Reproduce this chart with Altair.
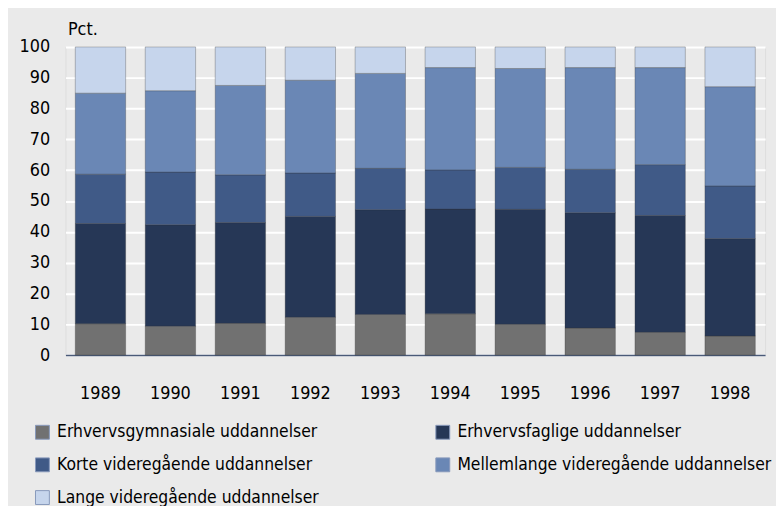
import altair as alt
import pandas as pd

years = ["1989", "1990", "1991", "1992", "1993", "1994", "1995", "1996", "1997", "1998"]
categories = [
    "Erhvervsgymnasiale uddannelser",
    "Erhvervsfaglige uddannelser",
    "Korte videregående uddannelser",
    "Mellemlange videregående uddannelser",
    "Lange videregående uddannelser",
]
colors = ["#717171", "#263756", "#405a87", "#6a87b5", "#c6d5ec"]

erhvervsgymnasiale = [10.2, 9.4, 10.3, 12.3, 13.2, 13.4, 10.0, 8.8, 7.4, 6.2]
erhvervsfaglige = [32.5, 32.9, 32.7, 32.7, 34.0, 34.0, 37.3, 37.4, 37.9, 31.6]
korte = [16.0, 17.1, 15.5, 14.1, 13.4, 12.7, 13.6, 14.1, 16.5, 17.1]
mellemlange = [26.3, 26.4, 29.0, 30.1, 30.8, 33.2, 32.1, 33.0, 31.5, 32.2]
lange = [15.0, 14.2, 12.5, 10.8, 8.6, 6.7, 7.0, 6.7, 6.7, 12.9]

series = [erhvervsgymnasiale, erhvervsfaglige, korte, mellemlange, lange]
rows = []
for ci, (cat, vals) in enumerate(zip(categories, series)):
    for y, v in zip(years, vals):
        rows.append({"year": y, "cat": cat, "idx": ci, "value": v})
df = pd.DataFrame(rows)

FONT = "DejaVu Sans Condensed, DejaVu Sans, sans-serif"

chart = (
    alt.Chart(df)
    .mark_bar(strokeWidth=1, strokeOpacity=0.3, stroke="#333333")
    .encode(
        x=alt.X(
            "year:N",
            title=None,
            scale=alt.Scale(paddingInner=0.28, paddingOuter=0.14),
            axis=alt.Axis(
                labelAngle=0,
                ticks=False,
                labelPadding=30,
                labelFontSize=18,
                labelColor="#000000",
                domainColor="#4a5a78",
                domainWidth=1.5,
                grid=False,
            ),
        ),
        y=alt.Y(
            "value:Q",
            stack="zero",
            scale=alt.Scale(domain=[0, 100], nice=False),
            axis=alt.Axis(
                values=list(range(0, 101, 10)),
                title="Pct.",
                titleAngle=0,
                titleAlign="left",
                titleBaseline="alphabetic",
                titleX=2,
                titleY=-13,
                titleFontSize=18,
                titleFontWeight="normal",
                titleColor="#000000",
                ticks=False,
                domain=False,
                labelPadding=16,
                labelFontSize=18,
                labelColor="#000000",
                gridColor="#ffffff",
                gridWidth=2,
            ),
        ),
        color=alt.Color(
            "cat:N",
            scale=alt.Scale(domain=categories, range=colors),
            legend=alt.Legend(
                title=None,
                orient="none",
                direction="horizontal",
                legendX=-32,
                legendY=380,
                columns=2,
                columnPadding=115,
                rowPadding=14,
                symbolType="square",
                symbolSize=196,
                symbolStrokeWidth=1,
                symbolStrokeColor="#8899bb",
                labelOffset=6,
                labelFontSize=17.5,
                labelColor="#000000",
                labelLimit=400,
            ),
        ),
        order=alt.Order("idx:Q", sort="ascending"),
    )
    .properties(
        width=706,
        height=311,
        background="#eaeaea",
        autosize=alt.AutoSizeParams(type="none"),
        padding={"left": 58, "top": 37, "right": 11, "bottom": 150},
    )
    .configure_view(fill="#dddddd", stroke=None)
    .configure(font=FONT)
)

chart.save("out.html", embed_options={"renderer": "svg", "actions": False})
